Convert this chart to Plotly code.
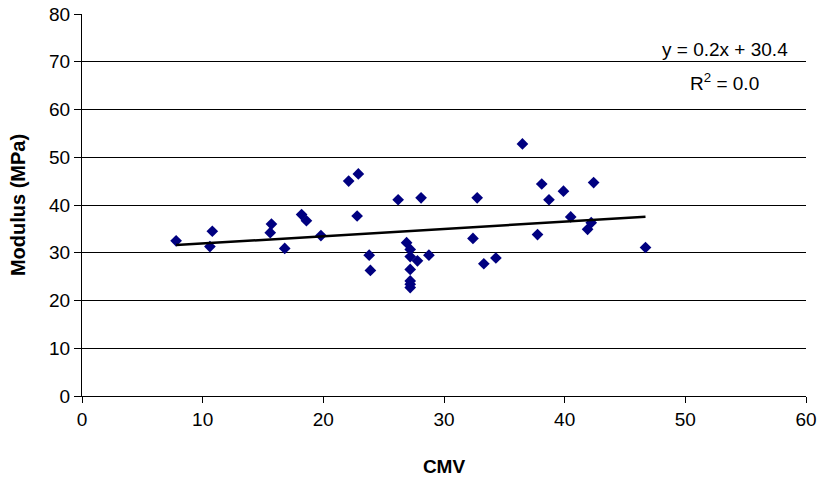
import numpy as np
import plotly.graph_objects as go

# CMV readings and measured modulus (MPa)
cmv = [7.8, 10.6, 10.8, 15.6, 15.7, 16.8, 18.2, 18.6, 19.8, 22.1, 22.9, 22.8,
       23.8, 23.9, 26.2, 26.9, 27.2, 27.2, 27.8, 27.2, 27.2, 27.2, 27.2, 28.1,
       28.75, 32.4, 32.75, 33.3, 34.3, 36.5, 37.75, 38.1, 38.7, 39.9, 40.5,
       41.9, 42.2, 42.4, 46.7]
modulus = [32.5, 31.3, 34.5, 34.2, 36.0, 30.9, 38.0, 36.7, 33.6, 45.0, 46.5, 37.7,
           29.5, 26.3, 41.1, 32.1, 30.7, 29.2, 28.3, 26.5, 24.1, 23.4, 22.7, 41.5,
           29.5, 33.0, 41.5, 27.7, 28.9, 52.8, 33.8, 44.4, 41.1, 42.9, 37.5,
           34.9, 36.3, 44.7, 31.1]

x_ticks = [0, 10, 20, 30, 40, 50, 60]
y_ticks = [0, 10, 20, 30, 40, 50, 60, 70, 80]

# Linear least-squares trend line
slope, intercept = np.polyfit(cmv, modulus, 1)
pred = slope * np.array(cmv) + intercept
ss_res = np.sum((np.array(modulus) - pred) ** 2)
ss_tot = np.sum((np.array(modulus) - np.mean(modulus)) ** 2)
r2 = 1 - ss_res / ss_tot
x_fit = np.array([min(cmv), max(cmv)])
y_fit = slope * x_fit + intercept

font = "Liberation Sans, Arial, sans-serif"

fig = go.Figure()
fig.add_trace(go.Scatter(
    x=cmv, y=modulus, mode="markers",
    marker=dict(symbol="diamond", size=9, color="#000080"),
    showlegend=False, hoverinfo="x+y",
))
fig.add_trace(go.Scatter(
    x=x_fit, y=y_fit, mode="lines",
    line=dict(color="black", width=2.5),
    showlegend=False, hoverinfo="skip",
))

# Trend-line equation and R² label
fig.add_annotation(
    x=0.888, y=0.906, xref="paper", yref="paper",
    text=f"y = {slope:.1f}x + {intercept:.1f}",
    showarrow=False, xanchor="center", yanchor="middle",
    font=dict(family=font, size=19, color="black"),
)
fig.add_annotation(
    x=0.888, y=0.822, xref="paper", yref="paper",
    text=f"R<sup>2</sup> = {r2:.1f}",
    showarrow=False, xanchor="center", yanchor="middle",
    font=dict(family=font, size=19, color="black"),
)

fig.update_layout(
    width=819, height=479,
    margin=dict(l=82, r=13, t=14, b=83, autoexpand=False),
    paper_bgcolor="white", plot_bgcolor="white",
    font=dict(family=font, size=19, color="black"),
    xaxis=dict(
        range=[0, 60], tickvals=x_ticks, showgrid=False, zeroline=False,
        showline=True, linecolor="black", linewidth=1, automargin=False,
        ticks="outside", ticklen=6, tickcolor="black",
        tickfont=dict(family=font, size=19),
        title=dict(text="<b>CMV</b>", font=dict(family=font, size=19), standoff=30),
    ),
    yaxis=dict(
        range=[0, 80], tickvals=y_ticks, showgrid=True, gridcolor="black",
        gridwidth=1, zeroline=False, automargin=False,
        showline=True, linecolor="black", linewidth=1,
        ticks="outside", ticklen=7, tickcolor="black",
        tickfont=dict(family=font, size=19),
        title=dict(text="<b>Modulus (MPa)</b>", font=dict(family=font, size=20), standoff=18),
    ),
)

fig.write_html("out.html")
